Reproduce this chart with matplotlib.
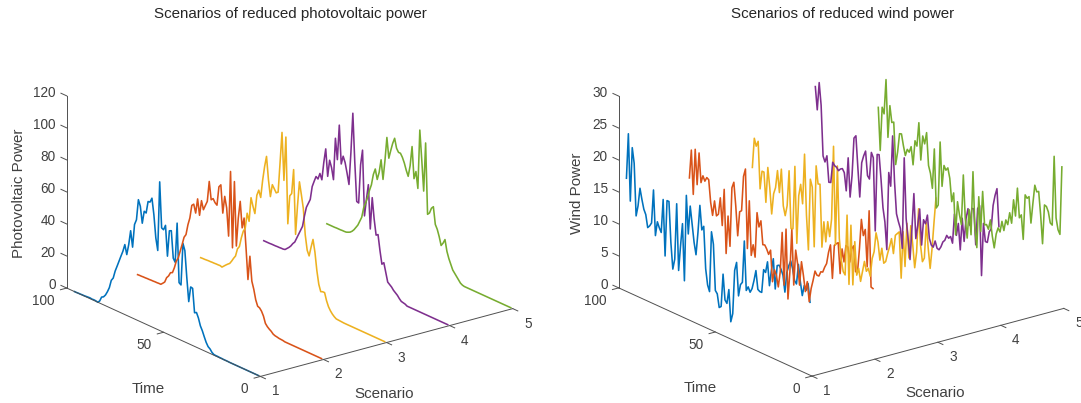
import matplotlib
matplotlib.use('Agg')
import numpy as np
from matplotlib import pyplot as plt
from mpl_toolkits.mplot3d import proj3d

plt.rcParams['font.family'] = ['Liberation Sans', 'DejaVu Sans']

time = np.arange(1, 97)
scenarios = [1, 2, 3, 4, 5]
colors = ['#0072BD', '#D95319', '#EDB120', '#7E2F8E', '#77AC30']

# photovoltaic power, t = 1..96
pv_1 = [0,0,0,0,0,0,0,0,0,0,0,0,0,0,0,0,0.1,0.1,0.1,0.2,0.2,0.3,0.3,0.4,
        1.2,2.8,3.7,5.8,8.8,12,14.5,18.8,21.7,21,35.7,36,26.3,40.7,57,61,34.5,35.4,72,47,49,65.6,65,48.6,
        67.3,64,64.6,92.8,49.4,56.7,70.6,80.4,77.4,77.2,69.5,70,62,72,75.6,62.5,59,44.3,54,44.8,38,43.7,
        39,35.4,31.7,28,24.4,19.5,17.5,12.4,9.3,6.7,5,4.3,1.3,0,
        0.3,0.4,0.3,0.5,0.4,0.3,0.2,0.2,0.1,0.1,0,0]
pv_2 = [0,0,0,0,0,0,0,0,0,0,0,0,0,0,0,0,0,0,0,0,
        .3,.4,.5,.8,1,1.5,2.7,3.5,4.5,6,10,12.5,14,14.5,18,24,28.5,43.5,28.4,47.6,
        65.7,59,75,64,46,85.7,43.8,90.9,50,67,73.7,62.7,79.8,78,66,67,69,67.7,78.6,65.6,
        62.5,59.3,64.4,54.7,64.4,55,60,58.7,50.3,45.5,38.8,36.6,31.5,26.8,22,19.5,14.8,11.2,10.6,8,
        6.4,3.1,1.8,.6,.6,.5,.5,.4,.4,.3,.3,.2,.2,.1,.1,0]
pv_3 = [0,0,0,0,0,0,0,0,0,0,0,0,0,0,0,0,0,0,0,0,0,0,
        .1,.2,.3,.4,1.2,2.3,3.8,5.8,9,13.5,13.5,13,17,25,36,43.4,38,32,
        35,44,60,68,75.5,60,41.6,81.5,66,64,46,99.6,72,101.4,82,63,62,64,66,58,
        68,82,75,66,54.7,58.7,55,43,47,51.8,36.5,41,31,28.7,24,18,16,11,9,6.7,
        4.7,3.7,2.6,1.4,.2,.6,.5,.5,.4,.4,.3,.3,.2,.1,.1,0]
pv_4 = [0,0,0,0,0,0,0,0,0,0,0,0,0,0,0,0,0,0,0,0,0,0,
        .7,1,1.3,2.5,4,5,6,7.5,8.5,9.5,15,20.5,19,27,36.4,35.5,45,57.8,
        37.7,64.8,55,44.2,84.7,75,50.6,51,75,105,80,59.4,66,72,75.4,70,93.7,71.6,84.4,58,
        65,69,58.4,75,66,54.6,58,54,55,51.4,47.6,39,36,33,27,20,17,14,11,8,
        6.5,4.5,3,1.8,.6,.3,.3,.2,.2,.1,.1,.1,0,0,0,0]
pv_5 = [0,0,0,0,0,0,0,0,0,0,0,0,0,0,0,0,0,0,0,0,0,0,0,0,0,
        .3,1,2.5,4,5.5,7,10,13,17,23.8,21,19,24,28,30.5,
        41,39.5,36,34.6,78.6,48,67,85,48,58,53,72.5,60,52.8,56,60,63,65,65,67,
        72.7,69,64,58.6,71,56,43.7,55.4,47,42,48,44,37,33,27.9,24,20.4,14,11,8,
        6,4,2.5,1.4,.8,.3,.2,.2,.1,.1,.1,0,0,0,0,0]

wind_1 = [17.7,24.8,14.4,22.9,20.6,12.5,14.2,17.1,15.5,14.1,13.4,11.5,11.9,12.5,17.8,10.8,13.1,12.3,11.7,17,
          8.3,17.1,17.1,10.8,6.8,8.5,17.3,7,11,14.6,5.8,19.3,13.4,17.9,15.2,12.5,10.7,14.3,18.7,15,
          15.7,9.2,6.8,5.9,15.4,13.6,6.5,6.1,4.1,4.4,9.6,5.7,5.3,7.6,2.7,4.1,11,12.4,7.3,9.2,
          9.7,16.3,8.7,9.4,8.7,9.4,10.8,12.5,9.7,9.5,9.5,13.2,12.9,14.7,11.1,13.6,15.6,11,14.8,15,
          14.5,13.7,11.2,14.4,15.6,16.5,15.4,13.7,13.3,16.5,13.9,11.9,13.6,13,14.2,11.4]
wind_2 = [15.1,19.6,12.8,20,14.6,19.7,15.2,16.4,15.7,16.4,16.2,12.8,10.9,13.3,11.1,11.5,14.2,10,15.8,5.9,
          11.9,7.3,16.6,17.6,14,9.5,13.4,13.7,19.2,20.5,8.2,15.8,7.4,9.2,7.4,14.5,12.4,13.5,9.9,10,
          9.5,8.8,9.6,4.8,6.8,6.1,4.4,6.9,13.2,5.1,14,3.2,7.6,14.4,5.8,11.4,9.4,6.2,10,8,
          5.6,7.3,4.3,6.5,7.9,9.5,9,9,9.8,9.9,10.8,11.5,13.4,14.7,9.6,14.9,15.3,15.6,10.9,14.9,
          13,15.7,15.6,13.4,15.6,16.2,12.3,12.4,16.2,20.9,18.5,19.6,13.9,22.8,11,10.9]
wind_3 = [14.1,18.8,17.7,18.6,11.3,14.2,14.2,9.6,15.2,12.2,8.2,11.5,12.6,15.4,12.1,15.9,10.3,8.9,10.6,16.2,
          7.3,7.4,17.3,5.4,13,14.9,12,19.9,10.5,5.2,16.4,15.3,6.1,18.9,16.2,16.3,6.6,10.7,7.7,11,
          8.8,11.7,23.2,7.9,20.4,9.2,6,4.3,3.9,13.4,2.7,12.1,2.9,9.8,4.7,5.9,4,5.7,7.4,6,
          6.6,5.5,8.4,9.6,12.7,11.4,8.7,10.7,8.5,8.9,10.3,11.5,12.9,10.7,13.7,14.1,14.5,7.4,14.8,9.5,
          16.4,11.1,16.3,13.4,10,12.6,19.5,14,11.5,12.2,17.9,14,11,14.3,18.5,22.4]
wind_4 = [24.1,20.6,25,21.6,13.8,13,14.1,10.1,10.2,13.5,13.1,13,12.6,13,13.2,12.7,10,15.3,9.3,12.8,
          18.8,19.3,14.5,10,15.5,16.7,17.6,13.9,13.5,17.8,17.1,5.8,17.9,18,14.3,10,7.9,3.7,15.9,13.9,
          21.9,14.8,10,8.9,8,5,19.3,9.9,7,3.8,8.8,14.4,7.5,9.7,12.4,6.9,11,10.5,12,8.5,
          7.6,7.4,8.5,7.5,7.4,8,8.9,9.3,10.2,9.9,10.3,9.4,14.1,10.9,12.9,8.9,14,10.5,14.2,15.9,
          13.4,16.2,16.3,10.8,16.6,17.2,6.4,14.7,12,12,13.8,14.4,18.2,19.9,21.1,15.3]
wind_5 = [18.2,11.6,18.5,17.6,23.1,14.2,19.3,16.8,17,10.5,12.6,15.6,15.7,14,12.6,13.7,13.4,14.4,11.7,15.6,
          14.9,18.7,13,16.9,15.8,17.7,12.7,11.6,9.4,15.7,6.6,7.2,17.2,10.4,13.8,13.2,13.7,12.2,8.7,10.2,
          3.8,9.1,7.2,5.8,13.7,7.1,4.1,8.7,4.9,14.9,6.2,3.3,11.4,6.1,12.5,7.4,7.6,7,8.6,6.2,
          4.5,6.8,7.9,7.4,9.2,7.9,9.7,9.1,11.1,9.6,13.4,11,15.5,11,11.6,7.9,15,14.6,15,11,
          14.2,17.2,16.3,16.5,13,8.6,14.8,14.7,14,12.4,12.2,23.1,13.6,11.9,11.3,22]

pv_series = [pv_1, pv_2, pv_3, pv_4, pv_5]
wind_series = [s[::-1] for s in [wind_1, wind_2, wind_3, wind_4, wind_5]]

time_ticks = [0, 50, 100]
pv_ticks = [0, 20, 40, 60, 80, 100, 120]
wind_ticks = [0, 5, 10, 15, 20, 25, 30]

fig = plt.figure(figsize=(10.81, 4.03), dpi=100)
W, H = 1081.0, 403.0
S = 500.0  # side of the square 3d axes, px
line_c = '#505050'
text_c = '#404040'


def panel(series, zticks, zmax, cx, cy, zoom, title, title_x, zlabel, zlabel_px):
    ax = fig.add_axes([(cx - S / 2) / W, (H - cy - S / 2) / H, S / W, S / H],
                      projection='3d', proj_type='ortho')
    ax.view_init(elev=20.5, azim=-127.5)
    ax.set_box_aspect((1, 1, 0.645), zoom=zoom)
    ax.set_xlim(1, 5)
    ax.set_ylim(0, 100)
    ax.set_zlim(0, zmax)
    ax.set_axis_off()
    M = ax.get_proj()

    # text at a data point, moved by a few pixels (dy down)
    def label(x, y, z, dx, dy, s, **kw):
        u, v, _ = proj3d.proj_transform(x, y, z, M)
        px, py = ax.transData.transform((u, v))
        fig.text((px + dx) / W, (py - dy) / H, s, color=text_c, va='center', **kw)

    for i in range(5):
        ax.plot([scenarios[i]] * 96, time, series[i], color=colors[i], lw=1.15)

    # axis lines
    ax.plot([1, 5], [0, 0], [0, 0], color=line_c, lw=0.7)
    ax.plot([1, 1], [0, 100], [0, 0], color=line_c, lw=0.7)
    ax.plot([1, 1], [100, 100], [0, zmax], color=line_c, lw=0.7)

    # ticks and tick labels
    for x in scenarios:
        ax.plot([x, x], [0, -2.6], [0, 0], color=line_c, lw=0.7)
        label(x, 0, 0, 15, 15, str(x), fontsize=9.8, ha='center')
    for y in time_ticks:
        ax.plot([1, 0.9], [y, y], [0, 0], color=line_c, lw=0.7)
        label(1, y, 0, -12, 13, str(y), fontsize=9.8, ha='right')
    for z in zticks:
        ax.plot([1, 1], [100, 103], [z, z], color=line_c, lw=0.7)
        label(1, 100, z, -11, -3, str(z), fontsize=9.8, ha='right')

    # axis labels
    label(3, 0, 0, -2.5, 51, 'Scenario', fontsize=10.9, ha='center')
    label(1, 50, 0, -15, 56.5, 'Time', fontsize=10.9, ha='center')
    label(1, 100, zmax / 2, -zlabel_px, 1, zlabel, fontsize=10.9, rotation=90, ha='center')

    fig.text(title_x / W, 1 - 14 / H, title, color='#262626', fontsize=10.9, ha='center', va='center')
    return ax


panel(pv_series, pv_ticks, 120, 283, 209, 0.96, 'Scenarios of reduced photovoltaic power', 290.5,
      'Photovoltaic Power', 48)
panel(wind_series, wind_ticks, 30, 834.5, 209, 0.958, 'Scenarios of reduced wind power', 842.5,
      'Wind Power', 41.5)

fig.savefig('out.png', dpi=100)
